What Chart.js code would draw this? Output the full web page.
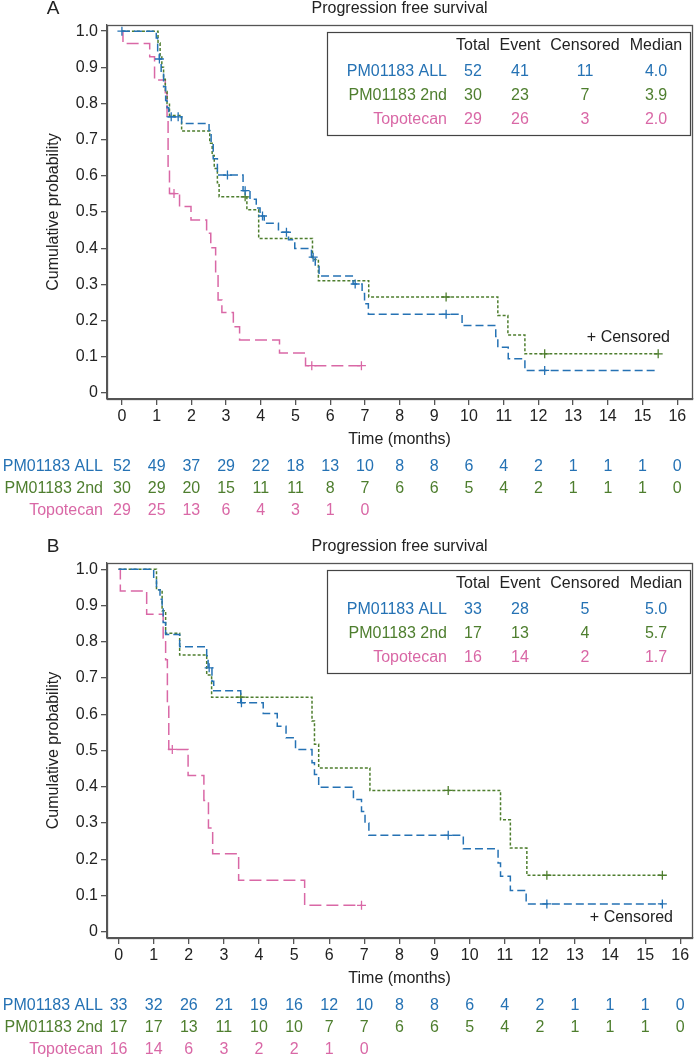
<!DOCTYPE html>
<html>
<head>
<meta charset="UTF-8">
<title>Progression free survival</title>
<script src="https://cdn.jsdelivr.net/npm/chart.js"></script>
<style>
  body { margin: 0; background: #fff; }
  canvas { display: block; }
</style>
</head>
<body>
<canvas id="chartA" width="698" height="530"></canvas>
<canvas id="chartB" width="698" height="530"></canvas>
<script>
const groups = ['PM01183 ALL', 'PM01183 2nd', 'Topotecan'];
const colors = ['#2572b4', '#4e7e2e', '#d968a6'];
const dashes = [[8, 4], [3, 2], [12, 5]];
const riskTimes = [0, 1, 2, 3, 4, 5, 6, 7, 8, 9, 10, 11, 12, 13, 14, 15, 16];
const yTicks = [0, 0.1, 0.2, 0.3, 0.4, 0.5, 0.6, 0.7, 0.8, 0.9, 1.0];
const legendHead = ['Total', 'Event', 'Censored', 'Median'];

// --- Panel A ---
const aAllT = [0, 0.99, 1.03, 1.08, 1.13, 1.2, 1.26, 1.3, 1.35, 1.72, 2.51, 2.57, 2.63, 2.75, 3.49, 3.69, 3.87, 3.98, 4.1, 4.51, 4.8, 4.98, 5.46, 5.57, 5.68, 6.66, 6.92, 6.99, 7.1, 9.8, 10.77, 10.83, 11.13, 11.61, 15.37];
const aAllS = [1.0, 0.981, 0.942, 0.923, 0.885, 0.846, 0.808, 0.788, 0.763, 0.745, 0.725, 0.686, 0.647, 0.602, 0.559, 0.535, 0.511, 0.489, 0.469, 0.444, 0.423, 0.399, 0.375, 0.349, 0.323, 0.301, 0.275, 0.246, 0.217, 0.186, 0.156, 0.126, 0.094, 0.062, 0.062];
const aAllCens = [0, 1.08, 1.42, 1.62, 3.04, 3.55, 4.05, 4.74, 5.51, 6.72, 9.34, 12.18];

const a2ndT = [0, 1.04, 1.1, 1.15, 1.2, 1.25, 1.3, 1.37, 1.72, 2.53, 2.6, 2.66, 2.75, 2.8, 3.6, 3.94, 5.49, 5.66, 7.11, 10.83, 11.12, 11.61, 15.45];
const a2ndS = [1.0, 0.967, 0.933, 0.9, 0.867, 0.833, 0.8, 0.767, 0.724, 0.69, 0.656, 0.62, 0.581, 0.542, 0.506, 0.427, 0.369, 0.31, 0.265, 0.214, 0.16, 0.108, 0.108];
const a2ndCens = [3.55, 9.34, 12.18, 15.45];

const aTopoT = [0, 0.03, 0.8, 0.94, 1.25, 1.3, 1.33, 1.37, 1.66, 1.99, 2.44, 2.56, 2.7, 2.77, 2.88, 3.21, 3.39, 4.54, 5.29, 6.9];
const aTopoS = [1.0, 0.966, 0.929, 0.865, 0.83, 0.76, 0.62, 0.551, 0.515, 0.478, 0.441, 0.401, 0.332, 0.257, 0.222, 0.183, 0.146, 0.11, 0.075, 0.075];
const aTopoCens = [1.5, 5.47, 6.9];

const aRiskAll = [52, 49, 37, 29, 22, 18, 13, 10, 8, 8, 6, 4, 2, 1, 1, 1, 0];
const aRisk2nd = [30, 29, 20, 15, 11, 11, 8, 7, 6, 6, 5, 4, 2, 1, 1, 1, 0];
const aRiskTopo = [29, 25, 13, 6, 4, 3, 1, 0];
const aLegAll = ['52', '41', '11', '4.0'];
const aLeg2nd = ['30', '23', '7', '3.9'];
const aLegTopo = ['29', '26', '3', '2.0'];

// --- Panel B ---
const bAllT = [0, 1.0, 1.08, 1.18, 1.24, 1.27, 1.34, 1.74, 2.51, 2.55, 2.66, 2.71, 3.48, 4.12, 4.52, 4.77, 5.04, 5.51, 5.58, 5.7, 6.69, 6.92, 7.02, 7.13, 9.82, 10.81, 10.88, 11.16, 11.61, 15.49];
const bAllS = [1.0, 0.97, 0.943, 0.917, 0.89, 0.853, 0.82, 0.786, 0.761, 0.728, 0.691, 0.665, 0.632, 0.602, 0.567, 0.535, 0.503, 0.466, 0.434, 0.399, 0.365, 0.332, 0.3, 0.266, 0.229, 0.19, 0.153, 0.114, 0.077, 0.077];
const bAllCens = [2.58, 3.5, 9.39, 12.2, 15.49];

const b2ndT = [0, 1.08, 1.24, 1.34, 1.74, 2.51, 2.65, 5.51, 5.58, 5.7, 7.16, 10.88, 11.16, 11.63, 15.49];
const b2ndS = [1.0, 0.943, 0.885, 0.823, 0.763, 0.708, 0.647, 0.581, 0.517, 0.452, 0.39, 0.309, 0.231, 0.156, 0.156];
const b2ndCens = [3.48, 9.39, 12.2, 15.49];

const bTopoT = [0, 0.05, 0.8, 1.27, 1.34, 1.39, 1.43, 1.98, 2.43, 2.56, 2.68, 3.42, 5.3, 6.92];
const bTopoS = [1.0, 0.94, 0.876, 0.81, 0.75, 0.622, 0.503, 0.431, 0.362, 0.286, 0.215, 0.142, 0.073, 0.073];
const bTopoCens = [1.53, 6.92];

const bRiskAll = [33, 32, 26, 21, 19, 16, 12, 10, 8, 8, 6, 4, 2, 1, 1, 1, 0];
const bRisk2nd = [17, 17, 13, 11, 10, 10, 7, 7, 6, 6, 5, 4, 2, 1, 1, 1, 0];
const bRiskTopo = [16, 14, 6, 3, 2, 2, 1, 0];
const bLegAll = ['33', '28', '5', '5.0'];
const bLeg2nd = ['17', '13', '4', '5.7'];
const bLegTopo = ['16', '14', '2', '1.7'];

const FONT = '"Liberation Sans", Arial, sans-serif';
Chart.defaults.font.family = FONT;
Chart.defaults.color = '#222';

// value of the KM step curve at time t
const survAt = (t, T, S) => {
  let v = S[0];
  for (let i = 0; i < T.length; i++) if (T[i] <= t) v = S[i];
  return v;
};

const decorPlugin = {
  id: 'decor',
  afterDraw(chart, args, opts) {
    const { ctx, chartArea: a, scales: { x } } = chart;
    ctx.save();
    // frame round the plot
    ctx.strokeStyle = '#555';
    ctx.lineWidth = 1.3;
    ctx.strokeRect(Math.round(a.left) + 0.5, Math.round(a.top) + 0.5, Math.round(a.right - a.left), Math.round(a.bottom - a.top));

    // panel letter + title
    ctx.fillStyle = '#222';
    ctx.textBaseline = 'middle';
    ctx.textAlign = 'center';
    ctx.font = '19px ' + FONT;
    ctx.fillText(opts.letter, 53, a.top - 16);
    ctx.font = '16px ' + FONT;
    ctx.fillText('Progression free survival', (a.left + a.right) / 2, a.top - 16);

    // legend table
    const bx = 327, by = a.top + 7;
    ctx.strokeStyle = '#444';
    ctx.lineWidth = 1.2;
    ctx.strokeRect(bx + 0.5, by + 0.5, 363, 103);
    const cols = [146, 193, 258, 329];
    legendHead.forEach((h, j) => ctx.fillText(h, bx + cols[j], by + 14));
    opts.legend.forEach((row, i) => {
      ctx.fillStyle = colors[i];
      ctx.textAlign = 'right';
      ctx.fillText(groups[i], bx + 120, by + 40 + i * 24);
      ctx.textAlign = 'center';
      row.forEach((v, j) => ctx.fillText(v, bx + cols[j], by + 40 + i * 24));
    });

    // + Censored note
    ctx.fillStyle = '#222';
    ctx.textAlign = 'right';
    ctx.fillText('+ Censored', opts.censX, opts.censY);

    // number at risk
    opts.risk.forEach((row, i) => {
      const y = a.bottom + 68 + i * 22;
      ctx.fillStyle = colors[i];
      ctx.textAlign = 'right';
      ctx.fillText(groups[i], 103, y);
      ctx.textAlign = 'center';
      row.forEach((v, k) => ctx.fillText(String(v), x.getPixelForValue(riskTimes[k]), y));
    });
    ctx.restore();
  }
};

const makeChart = (id, cfg) => {
  const datasets = [];
  cfg.curves.forEach(([T, S, C], i) => {
    datasets.push({
      data: T.map((t, k) => ({ x: t, y: S[k] })),
      showLine: true,
      stepped: 'before',
      borderColor: colors[i],
      borderWidth: 1.5,
      borderDash: dashes[i],
      pointRadius: 0,
      fill: false
    });
    datasets.push({
      data: C.map(t => ({ x: t, y: survAt(t, T, S) })),
      showLine: false,
      pointStyle: 'cross',
      pointRadius: 4.5,
      borderWidth: 1.3,
      borderColor: colors[i],
      backgroundColor: colors[i]
    });
  });

  return new Chart(document.getElementById(id), {
    type: 'scatter',
    data: { datasets },
    plugins: [decorPlugin],
    options: {
      responsive: false,
      animation: false,
      devicePixelRatio: 1,
      layout: { padding: { left: 40, right: 1, top: cfg.padTop, bottom: cfg.padBottom } },
      plugins: {
        legend: { display: false },
        title: { display: false },
        tooltip: { enabled: false },
        decor: { letter: cfg.letter, legend: cfg.legend, risk: cfg.risk, censX: cfg.censX, censY: cfg.censY }
      },
      scales: {
        x: {
          type: 'linear',
          min: cfg.xMin,
          max: cfg.xMax,
          afterFit: (s) => { s.height = 50; },
          afterBuildTicks: (s) => { s.ticks = riskTimes.map(v => ({ value: v })); },
          ticks: { font: { size: 16 }, padding: 2, maxRotation: 0, color: '#222' },
          grid: { drawOnChartArea: false, tickLength: 6, color: '#555', lineWidth: 1.3 },
          border: { color: '#555', width: 1.3 },
          title: { display: true, text: 'Time (months)', font: { size: 16 }, padding: { top: 0, bottom: 0 }, color: '#222' }
        },
        y: {
          min: -0.017,
          max: 1.017,
          afterFit: (s) => { s.width = 67; },
          afterBuildTicks: (s) => { s.ticks = yTicks.map(v => ({ value: v })); },
          ticks: { font: { size: 16 }, padding: 3, color: '#222', callback: (v) => v === 0 ? '0' : v.toFixed(1) },
          grid: { drawOnChartArea: false, tickLength: 6, color: '#555', lineWidth: 1.3 },
          border: { color: '#555', width: 1.3 },
          title: { display: true, text: 'Cumulative probability', font: { size: 16 }, padding: { top: 4, bottom: 0 }, color: '#222' }
        }
      }
    }
  });
};

makeChart('chartA', {
  letter: 'A',
  padTop: 25,
  padBottom: 81,
  xMin: -0.43,
  xMax: 16.43,
  curves: [[aAllT, aAllS, aAllCens], [a2ndT, a2ndS, a2ndCens], [aTopoT, aTopoS, aTopoCens]],
  legend: [aLegAll, aLeg2nd, aLegTopo],
  risk: [aRiskAll, aRisk2nd, aRiskTopo],
  censX: 670,
  censY: 338
});

makeChart('chartB', {
  letter: 'B',
  padTop: 33,
  padBottom: 72,
  xMin: -0.33,
  xMax: 16.34,
  curves: [[bAllT, bAllS, bAllCens], [b2ndT, b2ndS, b2ndCens], [bTopoT, bTopoS, bTopoCens]],
  legend: [bLegAll, bLeg2nd, bLegTopo],
  risk: [bRiskAll, bRisk2nd, bRiskTopo],
  censX: 673,
  censY: 388
});
</script>
</body>
</html>
